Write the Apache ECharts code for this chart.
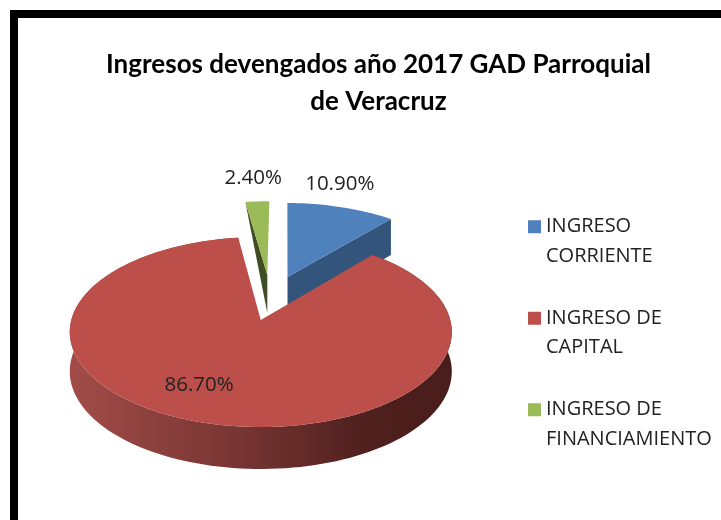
<!DOCTYPE html>
<html><head><meta charset="utf-8">
<style>html,body{margin:0;padding:0;background:#fff}#c{width:721px;height:520px}</style>
<script src="https://cdn.jsdelivr.net/npm/echarts@6/dist/echarts.min.js"></script>
</head><body><div id="c"></div>
<script>
const titleText = 'Ingresos devengados año 2017 GAD Parroquial\nde Veracruz';
const categories = ['INGRESO CORRIENTE', 'INGRESO DE CAPITAL', 'INGRESO DE FINANCIAMIENTO'];
const legendLines = ['INGRESO\nCORRIENTE', 'INGRESO DE\nCAPITAL', 'INGRESO DE\nFINANCIAMIENTO'];
const shares = [10.9, 86.7, 2.4];
const labels = ['10.90%', '86.70%', '2.40%'];

// projection of the tilted plate (perspective view)
const view = {cx: 260, cy: 320, A: 189.5, B: 93.5, k: 0.1263, D: 39.1, k2: 0.0687, firstAngle: 1};
// per-slice look: explosion in plate units, faces, wall kind, label placement
const looks = [
  {ox: 0.154, oy: 0.488, top: '#4f81bd', wall: '#33557c', kind: 'right', lr: 1.343, la: -5.0},
  {ox: 0.004, oy: 0, top: '#bd4f4b', wall: {type:'linear',x:0,y:0,x2:1,y2:0,colorStops:[
    {offset:0,color:'#a24c48'},{offset:0.45,color:'#763432'},{offset:0.78,color:'#4e201e'},{offset:1,color:'#491d1b'}]}, kind: 'rim', lr: 0.705, la: 8.85},
  {ox: 0.041, oy: 0.512, top: '#9bbb59', wall: '#3f4c24', kind: 'left', lr: 1.37, la: -0.25}
];

function project(X, Y, drop) {
  const d = 1 + view.k * Y;
  const y = view.cy - view.B * Y / d + (drop ? view.D / (1 + view.k2 * Y) : 0);
  return [view.cx + view.A * X / d, y];
}
const rad = a => a * Math.PI / 180;

function sliceRender(idx) {
  return function (params, api) {
    const share = api.value(0), before = api.value(1);
    const a0 = before * 3.6 + view.firstAngle, a1 = (before + share) * 3.6 + view.firstAngle;
    const L = looks[idx];
    const pt = (a, drop, r) => project(L.ox + (r===undefined?1:r) * Math.sin(rad(a)), L.oy + (r===undefined?1:r) * Math.cos(rad(a)), drop);
    const arc = drop => {
      const n = Math.max(6, Math.ceil((a1 - a0) / 2)), out = [];
      for (let i = 0; i <= n; i++) out.push(pt(a0 + (a1 - a0) * i / n, drop));
      return out;
    };
    const apex = drop => project(L.ox, L.oy, drop);
    const children = [];
    if (L.kind === 'rim') {
      children.push({type:'polygon', shape:{points: arc(false).concat(arc(true).reverse())}, style:{fill:L.wall}});
    } else if (L.kind === 'right') {
      children.push({type:'polygon', shape:{points:[pt(a1,false), pt(a1,true), apex(true), apex(false)]}, style:{fill:L.wall}});
    } else {
      children.push({type:'polygon', shape:{points:[pt(a0,false), apex(false), apex(true)]}, style:{fill:L.wall}});
    }
    children.push({type:'polygon', shape:{points:[apex(false)].concat(arc(false))}, style:{fill:L.top}});
    const mid = (a0 + a1) / 2 + L.la;
    const lp = pt(mid, false, L.lr);
    children.push({type:'text', z2: 10, style:{text: labels[idx], x: lp[0], y: lp[1], align:'center', verticalAlign:'middle',
      font:'20.5px "Open Sans"', fill:'#222'}});
    return {type:'group', children};
  };
}

let acc = 0;
const befores = shares.map(s => { const b = acc; acc += s; return b; });

const drawOrder = [0, 2, 1];
const chart = echarts.init(document.getElementById('c'), null, {renderer:'canvas'});
chart.setOption({
  animation:false,
  backgroundColor:'#fff',
  title:{text:titleText, left:373.5, textAlign:'center', top:41,
    textStyle:{fontFamily:'Lato', fontWeight:'bold', fontSize:26, lineHeight:37, color:'#000'}},
  legend:{left:528, top:182.5, padding:0, orient:'vertical', itemWidth:13, itemHeight:13, itemGap:3, icon:'rect',
    data:categories, selectedMode:false,
    // leading blank line keeps the key square level with the first text line
    formatter:n => '\n' + legendLines[categories.indexOf(n)],
    textStyle:{fontFamily:'Open Sans', fontSize:20, lineHeight:29.5, color:'#222'},
    itemStyle:{borderWidth:0}},
  graphic:[
    {type:'rect', shape:{x:10,y:10,width:711,height:8}, style:{fill:'#000'}},
    {type:'rect', shape:{x:10,y:10,width:8,height:510}, style:{fill:'#000'}}
  ],
  series: drawOrder.map(i => ({
    type:'custom', name:categories[i], coordinateSystem:'none', z: 2,
    itemStyle:{color:looks[i].top}, renderItem:sliceRender(i), silent:true,
    data:[[shares[i], befores[i]]]
  }))
});
</script></body></html>
